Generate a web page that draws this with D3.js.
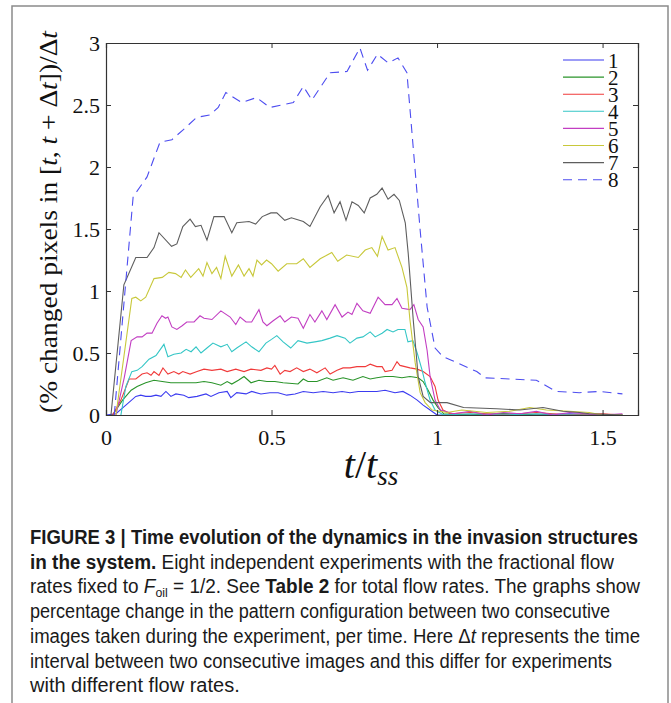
<!DOCTYPE html>
<html>
<head>
<meta charset="utf-8">
<script src="https://cdn.jsdelivr.net/npm/d3@7"></script>
<style>
  body { margin: 0; background: #fff; }
  svg { display: block; }
</style>
</head>
<body>
<div id="chart"></div>
<script>
// values: [t/t_ss, % changed pixels / dt]
const series1 = [[0,0],[0.03,0.01],[0.06,0.08],[0.09,0.15],[0.105,0.16],[0.12,0.15],[0.136,0.15],[0.151,0.16],[0.166,0.15],[0.181,0.19],[0.196,0.15],[0.211,0.17],[0.235,0.16],[0.25,0.14],[0.275,0.15],[0.302,0.17],[0.317,0.15],[0.341,0.18],[0.366,0.19],[0.377,0.14],[0.395,0.18],[0.423,0.17],[0.44,0.19],[0.468,0.17],[0.495,0.18],[0.52,0.18],[0.546,0.16],[0.571,0.17],[0.596,0.19],[0.626,0.18],[0.656,0.19],[0.686,0.18],[0.713,0.19],[0.737,0.18],[0.762,0.19],[0.788,0.19],[0.818,0.19],[0.843,0.2],[0.873,0.18],[0.897,0.19],[0.918,0.16],[0.94,0.12],[0.958,0.08],[0.979,0.04],[1.0,0.0],[1.1,0.0],[1.2,0.01],[1.3,0.0],[1.4,0.01],[1.5,0.0],[1.56,0.0]];
const series2 = [[0.02,0],[0.05,0.12],[0.076,0.2],[0.094,0.23],[0.12,0.26],[0.145,0.28],[0.17,0.27],[0.196,0.26],[0.22,0.26],[0.244,0.26],[0.272,0.26],[0.296,0.27],[0.32,0.26],[0.347,0.24],[0.366,0.27],[0.38,0.25],[0.4,0.28],[0.417,0.31],[0.438,0.26],[0.462,0.28],[0.486,0.27],[0.51,0.27],[0.535,0.26],[0.58,0.25],[0.596,0.29],[0.61,0.27],[0.637,0.27],[0.667,0.3],[0.686,0.28],[0.716,0.3],[0.746,0.28],[0.776,0.31],[0.798,0.29],[0.818,0.3],[0.843,0.31],[0.867,0.31],[0.894,0.3],[0.918,0.31],[0.943,0.3],[0.958,0.27],[0.973,0.2],[0.988,0.12],[1.003,0.06],[1.02,0.01],[1.1,0.0],[1.2,0.01],[1.3,0.0],[1.56,0.0]];
const series3 = [[0.02,0],[0.045,0.12],[0.07,0.29],[0.09,0.29],[0.109,0.33],[0.124,0.34],[0.136,0.32],[0.145,0.35],[0.16,0.32],[0.172,0.38],[0.187,0.33],[0.205,0.35],[0.22,0.33],[0.232,0.35],[0.254,0.33],[0.275,0.35],[0.296,0.37],[0.32,0.36],[0.347,0.37],[0.366,0.35],[0.392,0.37],[0.417,0.35],[0.438,0.37],[0.468,0.36],[0.486,0.38],[0.5,0.37],[0.51,0.4],[0.526,0.33],[0.54,0.36],[0.556,0.35],[0.576,0.38],[0.596,0.35],[0.616,0.37],[0.637,0.34],[0.662,0.38],[0.677,0.33],[0.698,0.36],[0.716,0.38],[0.737,0.38],[0.758,0.39],[0.783,0.39],[0.798,0.41],[0.818,0.39],[0.834,0.39],[0.843,0.35],[0.864,0.36],[0.879,0.43],[0.888,0.4],[0.903,0.39],[0.918,0.38],[0.94,0.37],[0.958,0.35],[0.979,0.31],[0.994,0.23],[1.003,0.12],[1.018,0.04],[1.04,0.01],[1.1,0.02],[1.2,0.0],[1.3,0.02],[1.4,0.0],[1.5,0.01],[1.56,0.0]];
const series4 = [[0.045,0],[0.06,0.23],[0.078,0.35],[0.094,0.36],[0.109,0.39],[0.13,0.45],[0.151,0.48],[0.175,0.57],[0.187,0.47],[0.205,0.49],[0.227,0.5],[0.242,0.53],[0.257,0.51],[0.272,0.55],[0.287,0.5],[0.305,0.54],[0.323,0.58],[0.347,0.55],[0.366,0.57],[0.38,0.51],[0.395,0.54],[0.423,0.59],[0.44,0.55],[0.462,0.51],[0.483,0.58],[0.5,0.61],[0.516,0.64],[0.535,0.59],[0.558,0.54],[0.58,0.6],[0.607,0.58],[0.631,0.59],[0.652,0.6],[0.677,0.62],[0.698,0.64],[0.722,0.62],[0.737,0.58],[0.758,0.62],[0.776,0.63],[0.798,0.67],[0.813,0.63],[0.834,0.66],[0.849,0.69],[0.867,0.67],[0.882,0.69],[0.903,0.69],[0.912,0.59],[0.927,0.6],[0.94,0.5],[0.955,0.36],[0.964,0.26],[0.979,0.12],[0.994,0.04],[1.02,0.0],[1.1,0.01],[1.2,0.0],[1.3,0.01],[1.4,0.0],[1.56,0.0]];
const series5 = [[0.03,0],[0.055,0.3],[0.076,0.6],[0.094,0.63],[0.109,0.63],[0.124,0.66],[0.139,0.66],[0.154,0.74],[0.169,0.8],[0.18,0.78],[0.187,0.79],[0.199,0.71],[0.214,0.69],[0.23,0.72],[0.244,0.75],[0.266,0.75],[0.284,0.8],[0.296,0.78],[0.32,0.77],[0.347,0.84],[0.375,0.79],[0.392,0.73],[0.405,0.79],[0.423,0.75],[0.44,0.75],[0.462,0.85],[0.474,0.75],[0.486,0.72],[0.505,0.76],[0.526,0.8],[0.54,0.75],[0.56,0.79],[0.58,0.78],[0.596,0.7],[0.616,0.81],[0.631,0.75],[0.652,0.84],[0.667,0.77],[0.692,0.89],[0.713,0.79],[0.731,0.83],[0.743,0.81],[0.758,0.9],[0.776,0.84],[0.798,0.82],[0.822,0.95],[0.843,0.89],[0.864,0.89],[0.879,0.94],[0.894,0.86],[0.918,0.85],[0.93,0.89],[0.943,0.77],[0.958,0.71],[0.97,0.52],[0.979,0.31],[0.994,0.12],[1.01,0.04],[1.05,0.01],[1.1,0.03],[1.15,0.0],[1.2,0.02],[1.25,0.01],[1.3,0.03],[1.35,0.0],[1.4,0.02],[1.45,0.01],[1.5,0.0],[1.56,0.01]];
const series6 = [[0.03,0],[0.078,0.94],[0.09,0.95],[0.105,0.92],[0.12,0.95],[0.145,1.1],[0.17,1.11],[0.19,1.15],[0.21,1.14],[0.227,1.11],[0.24,1.17],[0.256,1.11],[0.28,1.18],[0.293,1.12],[0.305,1.23],[0.32,1.14],[0.334,1.19],[0.347,1.1],[0.36,1.28],[0.38,1.12],[0.4,1.21],[0.417,1.12],[0.432,1.18],[0.444,1.12],[0.456,1.25],[0.47,1.21],[0.485,1.25],[0.5,1.22],[0.52,1.16],[0.546,1.22],[0.576,1.22],[0.596,1.26],[0.616,1.19],[0.647,1.26],[0.682,1.31],[0.7,1.24],[0.727,1.29],[0.762,1.27],[0.783,1.33],[0.803,1.35],[0.82,1.28],[0.834,1.44],[0.852,1.33],[0.873,1.35],[0.894,1.19],[0.909,1.03],[0.918,0.77],[0.934,0.42],[0.949,0.18],[0.964,0.1],[0.985,0.04],[1.03,0.02],[1.075,0.04],[1.15,0.02],[1.22,0.03],[1.28,0.06],[1.33,0.04],[1.4,0.03],[1.46,0.02],[1.5,0.0],[1.56,0.0]];
const series7 = [[0.015,0],[0.054,1.05],[0.09,1.27],[0.124,1.27],[0.145,1.35],[0.16,1.47],[0.198,1.36],[0.214,1.38],[0.232,1.52],[0.254,1.58],[0.27,1.52],[0.287,1.53],[0.305,1.41],[0.326,1.6],[0.357,1.6],[0.38,1.47],[0.395,1.55],[0.432,1.56],[0.452,1.54],[0.472,1.6],[0.498,1.63],[0.516,1.63],[0.54,1.57],[0.56,1.59],[0.596,1.56],[0.616,1.52],[0.647,1.68],[0.671,1.77],[0.689,1.63],[0.707,1.72],[0.725,1.57],[0.743,1.72],[0.762,1.69],[0.78,1.63],[0.798,1.75],[0.818,1.78],[0.834,1.83],[0.852,1.74],[0.87,1.78],[0.886,1.73],[0.904,1.55],[0.913,1.3],[0.928,0.77],[0.943,0.31],[0.958,0.15],[0.98,0.1],[1.0,0.1],[1.03,0.1],[1.08,0.06],[1.18,0.05],[1.25,0.04],[1.32,0.06],[1.38,0.03],[1.43,0.02],[1.46,0.01],[1.56,0.0]];
const series8 = [[0.025,0],[0.082,1.76],[0.124,1.92],[0.163,2.2],[0.199,2.22],[0.233,2.3],[0.274,2.4],[0.314,2.42],[0.339,2.48],[0.362,2.6],[0.41,2.52],[0.455,2.56],[0.495,2.48],[0.566,2.52],[0.596,2.65],[0.622,2.54],[0.677,2.76],[0.728,2.77],[0.767,2.96],[0.79,2.78],[0.82,2.91],[0.852,2.84],[0.882,2.88],[0.909,2.76],[0.949,1.49],[0.97,0.87],[0.994,0.54],[1.018,0.47],[1.045,0.44],[1.12,0.35],[1.145,0.3],[1.22,0.29],[1.3,0.28],[1.36,0.19],[1.43,0.18],[1.49,0.19],[1.56,0.17]];

const labels = ["1", "2", "3", "4", "5", "6", "7", "8"];
const colors = ["#3b3bf0", "#2a942a", "#f03a3a", "#34c6c6", "#c23ec2", "#c8c83a", "#5e5e5e", "#4d4df0"];
const xTicks = [0, 0.5, 1, 1.5];
const yTicks = [0, 0.5, 1, 1.5, 2, 2.5, 3];

const allSeries = [series1, series2, series3, series4, series5, series6, series7, series8];

const W = 671, H = 703;
const margin = { top: 43, right: 33, bottom: 288, left: 106 };
const serif = "'Liberation Serif', 'DejaVu Serif', serif";
const sans = "'Liberation Sans', Arial, sans-serif";

const svg = d3.select("#chart").append("svg")
    .attr("width", W)
    .attr("height", H);

svg.append("rect").attr("width", W).attr("height", H).attr("fill", "#fff");

// outer frame of the figure panel
svg.append("rect")
    .attr("x", 12).attr("y", 6)
    .attr("width", 656).attr("height", 720)
    .attr("fill", "none")
    .attr("stroke", "#8a8a8a")
    .attr("stroke-width", 1.5);

const x = d3.scaleLinear()
    .domain([0, 1.607])
    .range([margin.left, W - margin.right]);

const y = d3.scaleLinear()
    .domain([0, 3])
    .range([H - margin.bottom, margin.top]);

svg.append("clipPath").attr("id", "plotClip")
    .append("rect")
    .attr("x", x(0)).attr("y", y(3))
    .attr("width", x(1.607) - x(0)).attr("height", y(0) - y(3));

const line = d3.line()
    .x(d => x(d[0]))
    .y(d => y(d[1]));

svg.append("g")
    .attr("clip-path", "url(#plotClip)")
    .selectAll("path")
    .data(allSeries)
    .enter()
    .append("path")
    .attr("d", line)
    .attr("fill", "none")
    .attr("stroke", (d, i) => colors[i])
    .attr("stroke-width", 1.1)
    .attr("stroke-dasharray", (d, i) => i === 7 ? "9,6" : null);

// axes, matlab style: ticks inside on all four sides
const tickLen = 5;
const axisColor = "#333";

const bottomAxis = svg.append("g")
    .attr("transform", "translate(0," + y(0) + ")")
    .call(d3.axisBottom(x).tickValues(xTicks).tickSize(-tickLen).tickPadding(10).tickFormat(d3.format("")));
const leftAxis = svg.append("g")
    .attr("transform", "translate(" + x(0) + ",0)")
    .call(d3.axisLeft(y).tickValues(yTicks).tickSize(-tickLen).tickPadding(6).tickFormat(d3.format("")));
const topAxis = svg.append("g")
    .attr("transform", "translate(0," + y(3) + ")")
    .call(d3.axisTop(x).tickValues(xTicks).tickSize(-tickLen).tickFormat(""));
const rightAxis = svg.append("g")
    .attr("transform", "translate(" + x(1.607) + ",0)")
    .call(d3.axisRight(y).tickValues(yTicks).tickSize(-tickLen).tickFormat(""));

[bottomAxis, leftAxis, topAxis, rightAxis].forEach(g => {
    g.select(".domain").attr("stroke", axisColor).attr("stroke-width", 1.2);
    g.selectAll(".tick line").attr("stroke", axisColor);
    g.selectAll("text")
        .attr("font-family", serif)
        .attr("font-size", "22px")
        .attr("fill", "#111");
});
bottomAxis.selectAll("text").attr("dy", "0.9em");
leftAxis.selectAll("text").attr("dy", "0.35em");

// legend (no box)
const legend = svg.append("g");
labels.forEach((lab, i) => {
    const ly = 60 + i * 17.1;
    legend.append("line")
        .attr("x1", 563).attr("x2", 604)
        .attr("y1", ly).attr("y2", ly)
        .attr("stroke", colors[i])
        .attr("stroke-width", 1.1)
        .attr("stroke-dasharray", i === 7 ? "9,6" : null);
    legend.append("text")
        .attr("x", 608).attr("y", ly)
        .attr("dy", "0.36em")
        .attr("font-family", serif)
        .attr("font-size", "21px")
        .attr("fill", "#111")
        .text(lab);
});

// axis labels
const xl = svg.append("text")
    .attr("x", 371).attr("y", 478)
    .attr("text-anchor", "middle")
    .attr("font-family", serif)
    .attr("font-size", "40px")
    .attr("font-style", "italic")
    .attr("fill", "#111");
xl.append("tspan").text("t");
xl.append("tspan").attr("font-style", "normal").text("/");
xl.append("tspan").text("t");
xl.append("tspan").attr("font-size", "27px").attr("dy", 7).text("ss");

const yl = svg.append("text")
    .attr("transform", "translate(57,222) rotate(-90)")
    .attr("text-anchor", "middle")
    .attr("font-family", serif)
    .attr("font-size", "25px")
    .attr("textLength", 382)
    .attr("lengthAdjust", "spacingAndGlyphs")
    .attr("fill", "#111");
yl.append("tspan").text("(% changed pixels in [");
yl.append("tspan").attr("font-style", "italic").text("t");
yl.append("tspan").text(", ");
yl.append("tspan").attr("font-style", "italic").text("t");
yl.append("tspan").text(" + \u0394");
yl.append("tspan").attr("font-style", "italic").text("t");
yl.append("tspan").text("])/\u0394");
yl.append("tspan").attr("font-style", "italic").text("t");

// caption, squeezed to the widths of the printed (condensed) lines
const capLines = [
    [["b", "FIGURE 3 | Time evolution of the dynamics in the invasion structures"]],
    [["b", "in the system."], ["n", " Eight independent experiments with the fractional flow"]],
    [["n", "rates fixed to "], ["i", "F"], ["sub", "oil"], ["n", " = 1/2. See "], ["b", "Table 2"], ["n", " for total flow rates. The graphs show"]],
    [["n", "percentage change in the pattern configuration between two consecutive"]],
    [["n", "images taken during the experiment, per time. Here \u0394"], ["i", "t"], ["n", " represents the time"]],
    [["n", "interval between two consecutive images and this differ for experiments"]],
    [["n", "with different flow rates."]]
];
const capWidths = [608, 584, 610, 580, 610, 582, 233];

const caption = svg.append("g");
capLines.forEach((parts, i) => {
    const t = caption.append("text")
        .attr("x", 30)
        .attr("y", 544 + i * 24.7)
        .attr("font-family", sans)
        .attr("font-size", "20px")
        .attr("fill", "#1a1a1a");
    let sub = false;
    parts.forEach(([kind, str]) => {
        const ts = t.append("tspan").text(str);
        if (kind === "b") ts.attr("font-weight", "bold");
        if (kind === "i") ts.attr("font-style", "italic");
        if (kind === "sub") {
            ts.attr("font-size", "13px").attr("dy", 4);
            sub = true;
        } else if (sub) {
            ts.attr("dy", -4);
            sub = false;
        }
    });
    // only squeeze, never stretch
    const natural = t.node().getComputedTextLength();
    if (natural > capWidths[i]) {
        t.attr("textLength", capWidths[i]).attr("lengthAdjust", "spacingAndGlyphs");
    }
});
</script>
</body>
</html>
